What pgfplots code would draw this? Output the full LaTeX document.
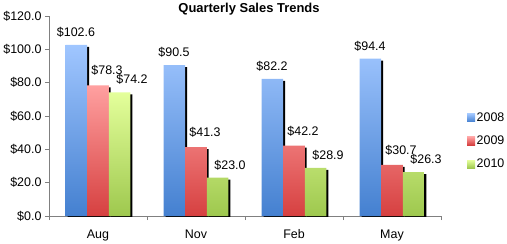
\documentclass[border=0pt]{standalone}
\usepackage{fontspec}
\setmainfont{Liberation Sans}
\usepackage{pgfplots}
\usepackage{pgfplotstable}
\pgfplotsset{compat=1.18}
\definecolor{bT}{RGB}{160,198,255}
\definecolor{bB}{RGB}{68,128,208}
\definecolor{rT}{RGB}{255,160,160}
\definecolor{rB}{RGB}{214,64,64}
\definecolor{gT}{RGB}{228,255,155}
\definecolor{gB}{RGB}{158,200,78}
\definecolor{axgray}{RGB}{128,128,128}
\pgfplotstableread{
x y
0 102.6
1 90.5
2 82.2
3 94.4
}\tA
\pgfplotstableread{
x y
0 78.3
1 41.3
2 42.2
3 30.7
}\tB
\pgfplotstableread{
x y
0 74.2
1 23.0
2 28.9
3 26.3
}\tC
\newcommand{\lf}{\fontsize{12.5}{14}\selectfont}
\begin{document}
\begin{tikzpicture}
\begin{axis}[
  name=ax,
  scale only axis, width=392bp, height=200bp,
  xmin=-0.5, xmax=3.5, ymin=0, ymax=120,
  axis x line*=bottom, axis y line*=left,
  axis line style={draw=axgray, -},
  every tick/.style={draw=axgray},
  tick align=outside, major tick length=4bp,
  /pgf/number format/assume math mode=true,
  ytick={0,20,40,60,80,100,120},
  yticklabel={\$\pgfmathprintnumber[fixed,fixed zerofill,precision=1]{\tick}},
  yticklabel style={font=\lf},
  xtick={-0.5,0.5,1.5,2.5,3.5}, xticklabels={},
  extra x ticks={0,1,2,3},
  extra x tick labels={Aug,Nov,Feb,May},
  extra x tick style={major tick length=0pt, xticklabel style={font=\lf, yshift=-10bp}},
  every node near coord/.append style={font=\lf, anchor=base, inner sep=0pt},
  legend style={draw=none, fill=none, at={(axis description cs:1,0.5)}, anchor=west, xshift=26bp, yshift=-25bp, inner sep=0pt, row sep=10bp, font=\lf, nodes={inner sep=1.5bp}},
  legend cell align=left,
]
% shadows
\addplot[ybar, bar width=0.22, bar shift=-0.2, fill=black, draw=none, yshift=-2bp, forget plot] table {\tA};
\addplot[ybar, bar width=0.22, bar shift=0.02, fill=black, draw=none, yshift=-2bp, forget plot] table {\tB};
\addplot[ybar, bar width=0.22, bar shift=0.24, fill=black, draw=none, yshift=-2bp, forget plot] table {\tC};
% bars
\addplot[ybar, bar width=0.22, bar shift=-0.22, draw=none, top color=bT, bottom color=bB,
  legend image code/.code={\shade[top color=bT,bottom color=bB] (0bp,-4bp) rectangle (8bp,4bp);}] table {\tA};
\addlegendentry{2008}
\addplot[ybar, bar width=0.22, bar shift=0, draw=none, top color=rT, bottom color=rB,
  legend image code/.code={\shade[top color=rT,bottom color=rB] (0bp,-4bp) rectangle (8bp,4bp);}] table {\tB};
\addlegendentry{2009}
\addplot[ybar, bar width=0.22, bar shift=0.22, draw=none, top color=gT, bottom color=gB,
  legend image code/.code={\shade[top color=gT,bottom color=gB] (0bp,-4bp) rectangle (8bp,4bp);}] table {\tC};
\addlegendentry{2010}
% value labels
\addplot[draw=none, forget plot, nodes near coords={\$\pgfmathprintnumber[fixed,fixed zerofill,precision=1]{\pgfplotspointmeta}},
  every node near coord/.append style={xshift=-22bp, yshift=8.5bp}] table {\tA};
\addplot[draw=none, forget plot, nodes near coords={\$\pgfmathprintnumber[fixed,fixed zerofill,precision=1]{\pgfplotspointmeta}},
  every node near coord/.append style={xshift=9bp, yshift=10.5bp}] table {\tB};
\addplot[draw=none, forget plot, nodes near coords={\$\pgfmathprintnumber[fixed,fixed zerofill,precision=1]{\pgfplotspointmeta}},
  every node near coord/.append style={xshift=34bp, yshift=8.5bp}] table {\tC};
\end{axis}
\node[anchor=base, font=\bfseries\fontsize{13}{15}\selectfont, inner sep=0pt] at ([xshift=4bp,yshift=3.5bp]ax.north) {Quarterly Sales Trends};
\pgfresetboundingbox
\path[use as bounding box] ([shift={(-49bp,-28bp)}]ax.south west) rectangle ++(507bp,244bp);
\end{tikzpicture}
\end{document}
